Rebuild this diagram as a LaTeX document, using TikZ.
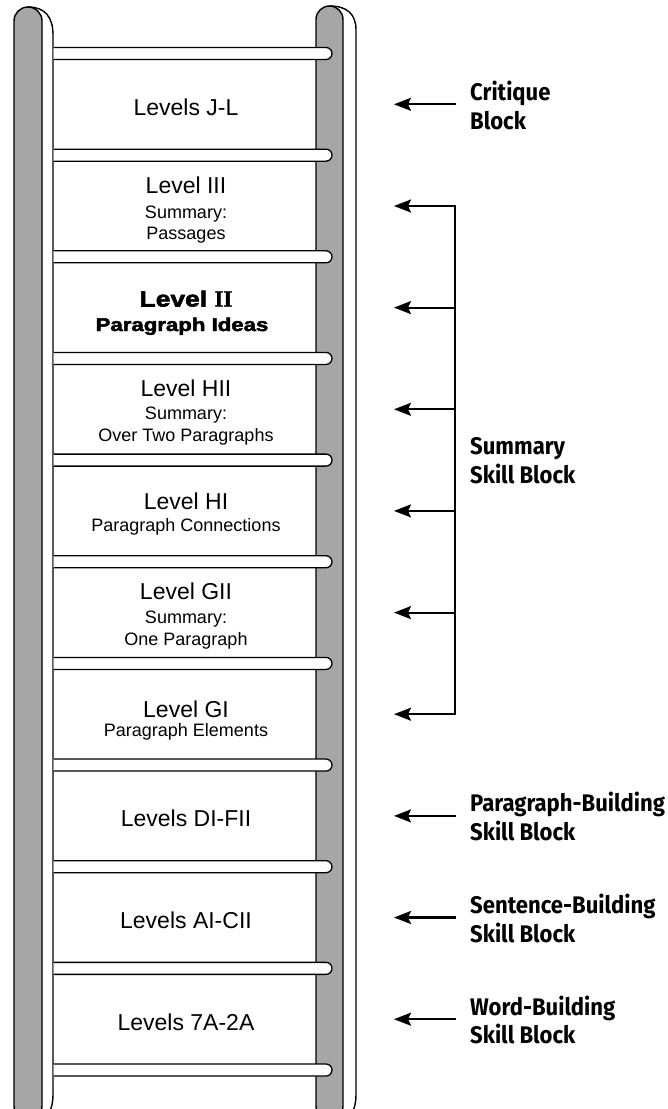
\documentclass[tikz,border=0pt]{standalone}
\usepackage{fontspec}
\usetikzlibrary{arrows.meta}
\newfontfamily\ladderfont{Liberation Sans}
\newfontfamily\ladderbold[FakeStretch=1.2,FakeBold=2.6]{Liberation Sans}
\newfontfamily\romanbold[FakeBold=1.5]{Liberation Serif}
\newfontfamily\blockfont[FakeStretch=0.92]{Fira Sans}
\tikzset{
  big/.style={font=\ladderfont\fontsize{23}{26}\selectfont, anchor=base, inner sep=0pt},
  small/.style={font=\ladderfont\fontsize{18}{21}\selectfont, anchor=base, inner sep=0pt},
  bigbold/.style={font=\ladderbold\bfseries\fontsize{22}{26}\selectfont, anchor=base, inner sep=0pt},
  smallbold/.style={font=\ladderbold\bfseries\fontsize{18.5}{21}\selectfont, anchor=base, inner sep=0pt},
  blk/.style={font=\blockfont\bfseries\fontsize{24}{29}\selectfont, anchor=base west, inner sep=0pt},
  arr/.style={line width=2.2pt, -{Stealth[length=17pt,width=13pt,inset=3pt]}},
  barr/.style={line width=2.2pt, {Stealth[length=17pt,width=13pt,inset=3pt]}-{Stealth[length=17pt,width=13pt,inset=3pt]}},
  railbar/.style={fill=black!35, draw=black, line width=1.4pt},
  railside/.style={fill=white, draw=black, line width=1.4pt},
  rungfill/.style={fill=white},
  rungline/.style={draw=black, line width=1.3pt}
}
\begin{document}
\begin{tikzpicture}[x=1pt,y=-1pt]
\useasboundingbox (0,0) rectangle (668,1109);
\begin{scope}
\clip (0,0) rectangle (668,1109);
% left rail
\path[railside] (28,7) .. controls (45,7) and (53,17) .. (53,35) -- (53,1095)
  .. controls (53,1110) and (47,1118) .. (40,1120) -- (28,1120) -- cycle;
\path[railbar] (14,1106) -- (14,21) arc (180:360:14) -- (42,1106) arc (0:180:14) -- cycle;
% right rail
\path[railside] (329.5,6) .. controls (347,6) and (356,14) .. (356,30) -- (356,1095)
  .. controls (356,1110) and (350,1118) .. (343,1120) -- (329.5,1120) -- cycle;
\path[railbar] (316,1106) -- (316,19.5) arc (180:360:13.5) -- (343,1106) arc (0:180:13.5) -- cycle;
% rungs
\foreach \i in {0,...,10}{
  \pgfmathsetmacro{\yc}{53.5+101.65*\i}
  \fill[rungfill] (53.7,\yc-6) -- (326,\yc-6) arc (-90:90:6) -- (53.7,\yc+6) -- cycle;
  \draw[rungline] (53.7,\yc-6) -- (326,\yc-6) arc (-90:90:6) -- (53.7,\yc+6);
}
\end{scope}

% ladder labels
\node[big] (jl) at (186,115.3) {Levels J-L};

\node[big] (l3a) at (186,193) {Level III};
\node[small] (l3b) at (186,218.5) {Summary:};
\node[small] (l3c) at (186,239.5) {Passages};

\node[bigbold] (l2a) at (186,306.5) {Level {\romanbold\bfseries\fontsize{23}{26}\selectfont II}};
\node[smallbold] (l2b) at (182,331) {Paragraph Ideas};

\node[big] (h2a) at (186,396.3) {Level HII};
\node[small] (h2b) at (186,419.5) {Summary:};
\node[small] (h2c) at (186,441.5) {Over Two Paragraphs};

\node[big] (h1a) at (186,509.5) {Level HI};
\node[small] (h1b) at (186,531.5) {Paragraph Connections};

\node[big] (g2a) at (186,599.6) {Level GII};
\node[small] (g2b) at (186,623.1) {Summary:};
\node[small] (g2c) at (186,645.1) {One Paragraph};

\node[big] (g1a) at (186,717) {Level GI};
\node[small] (g1b) at (186,736) {Paragraph Elements};

\node[big] (df) at (186,826.9) {Levels DI-FII};
\node[big] (ac) at (186,928.5) {Levels AI-CII};
\node[big] (wa) at (186,1030.2) {Levels 7A-2A};

% right-hand labels
\node[blk] (crit1) at (470,100.3) {Critique};
\node[blk] (crit2) at (470,129.3) {Block};
\node[blk] (sum1) at (470,454) {Summary};
\node[blk] (sum2) at (470,483) {Skill Block};
\node[blk] (par1) at (470,811.9) {Paragraph-Building};
\node[blk] (par2) at (470,840.4) {Skill Block};
\node[blk] (sen1) at (470,913.5) {Sentence-Building};
\node[blk] (sen2) at (470,942) {Skill Block};
\node[blk] (wrd1) at (470,1015.2) {Word-Building};
\node[blk] (wrd2) at (470,1043.7) {Skill Block};

% arrow end points
\coordinate (critT) at (394,104.3);
\coordinate (critS) at (456,104.3);
\coordinate (parT) at (394,815.9);
\coordinate (parS) at (456,815.9);
\coordinate (senT) at (394,917.5);
\coordinate (senS) at (456,917.5);
\coordinate (wrdT) at (394,1019.2);
\coordinate (wrdS) at (456,1019.2);
\foreach \n/\y in {1/206.0,2/307.6,3/409.3,4/510.9,5/612.6,6/714.2}{
  \coordinate (bT\n) at (394,\y);
  \coordinate (bS\n) at (455,\y);
}

\draw[arr] (critS) -- (critT);
\draw[arr] (parS) -- (parT);
\draw[arr] (senS) -- (senT);
\draw[arr] (wrdS) -- (wrdT);
\draw[barr] (bT1) -- (bS1) -- (bS6) -- (bT6);
\foreach \n in {2,3,4,5}{
  \draw[arr] (bS\n) -- (bT\n);
}
\end{tikzpicture}
\end{document}
